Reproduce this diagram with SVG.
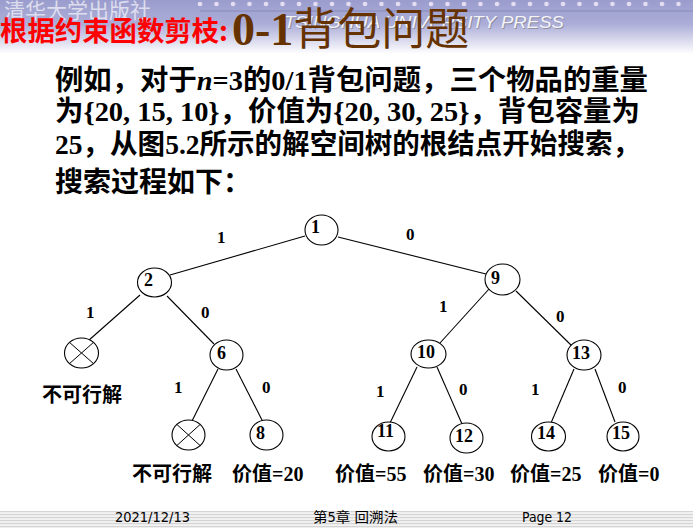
<svg xmlns="http://www.w3.org/2000/svg" width="693" height="528" viewBox="0 0 693 528">
<defs>
<linearGradient id="hdr" x1="0" y1="0" x2="0" y2="1">
<stop offset="0" stop-color="#9a9ccd"/>
<stop offset="0.45" stop-color="#acaed8"/>
<stop offset="1" stop-color="#ffffff"/>
</linearGradient>
<pattern id="dots" x="196" y="0" width="16.5" height="8" patternUnits="userSpaceOnUse">
<circle cx="4" cy="4" r="2.3" fill="#e6def2"/>
</pattern>
<pattern id="stripes" x="0" y="511" width="10" height="3" patternUnits="userSpaceOnUse">
<rect width="10" height="1.5" fill="#d4d4d4"/>
<rect y="1.5" width="10" height="1.5" fill="#f2f2f2"/>
</pattern>
</defs>
<style>
.cjk{font-family:"Noto Sans CJK SC","Liberation Sans",sans-serif;font-weight:bold}
.ser{font-family:"Liberation Serif","Noto Sans CJK SC",serif;font-weight:bold}
.node ellipse{fill:#fff;stroke:#000;stroke-width:1.1}
.node line{stroke:#000;stroke-width:1}
.nl{font-family:"Liberation Serif",serif;font-weight:bold;font-size:18px;fill:#000}
.el{font-family:"Liberation Serif",serif;font-weight:bold;font-size:17px;fill:#000}
#edges line{stroke:#000;stroke-width:1.1}
.leaf{font-size:20px;fill:#000}
.foot{font-family:"DejaVu Sans Condensed","DejaVu Sans","Noto Sans CJK SC",sans-serif;font-size:14px;fill:#000}
.press{font-family:"Liberation Sans",sans-serif;font-style:italic;font-size:17px}
</style>
<rect width="693" height="528" fill="#fff"/>
<!-- header -->
<rect x="0" y="0" width="693" height="54" fill="url(#hdr)"/>
<rect x="190" y="0" width="503" height="8" fill="url(#dots)"/>
<line x1="200" y1="11" x2="693" y2="11" stroke="#8a8cc0" stroke-width="1.5" opacity="0.7"/>
<text x="4" y="18" font-family="Noto Sans CJK SC,sans-serif" font-size="21" fill="#e8e8f4" opacity="0.85">清华大学出版社</text>
<text x="285" y="29" class="press" fill="#777" opacity="0.6" textLength="280" lengthAdjust="spacingAndGlyphs">TSINGHUA UNIVERSITY PRESS</text>
<text x="284" y="28" class="press" fill="#f4f4fa" textLength="280" lengthAdjust="spacingAndGlyphs">TSINGHUA UNIVERSITY PRESS</text>
<text x="0" y="41" class="cjk" font-size="27" fill="#ff0000" textLength="228" lengthAdjust="spacingAndGlyphs">根据约束函数剪枝:</text>
<text x="232" y="45" font-size="44" fill="#663300"><tspan class="ser" font-size="46">0-1</tspan><tspan font-family="Noto Sans CJK SC,sans-serif" font-weight="normal">背包问题</tspan></text>
<!-- body -->
<text x="55" y="90" class="cjk" font-size="28" fill="#000" textLength="593" lengthAdjust="spacingAndGlyphs">例如，对于<tspan class="ser" font-style="italic">n</tspan><tspan class="ser">=3</tspan>的<tspan class="ser">0/1</tspan>背包问题，三个物品的重量</text>
<text x="55" y="121" class="cjk" font-size="28" fill="#000" textLength="585" lengthAdjust="spacingAndGlyphs">为<tspan class="ser">{20, 15, 10}</tspan>，价值为<tspan class="ser">{20, 30, 25}</tspan>，背包容量为</text>
<text x="55" y="154" class="cjk" font-size="28" fill="#000" textLength="585" lengthAdjust="spacingAndGlyphs"><tspan class="ser">25</tspan>，从图<tspan class="ser">5.2</tspan>所示的解空间树的根结点开始搜索，</text>
<text x="55" y="192" class="cjk" font-size="28" fill="#000">搜索过程如下：</text>
<!-- connectors -->
<g id="edges">
<line x1="305" y1="236" x2="170" y2="275"/>
<line x1="338" y1="237" x2="490" y2="275"/>
<line x1="140" y1="295" x2="88" y2="341"/>
<line x1="167" y1="296" x2="214" y2="344"/>
<line x1="218" y1="369" x2="192" y2="421"/>
<line x1="236" y1="369" x2="263" y2="422"/>
<line x1="489" y1="289" x2="440" y2="343"/>
<line x1="516" y1="291" x2="573" y2="347"/>
<line x1="417" y1="367" x2="390" y2="423"/>
<line x1="437" y1="367" x2="462" y2="424"/>
<line x1="574" y1="369" x2="551" y2="423"/>
<line x1="595" y1="369" x2="615" y2="422"/>
<text class="el" x="217" y="243">1</text>
<text class="el" x="406" y="240">0</text>
<text class="el" x="86" y="318">1</text>
<text class="el" x="201" y="318">0</text>
<text class="el" x="174" y="393">1</text>
<text class="el" x="262" y="393">0</text>
<text class="el" x="439" y="312">1</text>
<text class="el" x="556" y="322">0</text>
<text class="el" x="376" y="397">1</text>
<text class="el" x="459" y="395">0</text>
<text class="el" x="531" y="395">1</text>
<text class="el" x="618" y="393">0</text>
</g>
<!-- nodes -->
<g id="n1" class="node"><ellipse cx="321.5" cy="230" rx="16.5" ry="15"/><text class="nl" x="311" y="233">1</text></g>
<g id="n2" class="node"><ellipse cx="154.5" cy="282.5" rx="17" ry="14.5"/><text class="nl" x="144" y="286">2</text></g>
<g id="nx1" class="node"><ellipse cx="81.5" cy="353" rx="17" ry="15"/><line x1="69.5" y1="342.4" x2="93.5" y2="363.6"/><line x1="93.5" y1="342.4" x2="69.5" y2="363.6"/></g>
<g id="n6" class="node"><ellipse cx="226.5" cy="355" rx="16.5" ry="15"/><text class="nl" x="217" y="359">6</text></g>
<g id="nx2" class="node"><ellipse cx="188.5" cy="435" rx="16.5" ry="15"/><line x1="176.8" y1="424.4" x2="200.2" y2="445.6"/><line x1="200.2" y1="424.4" x2="176.8" y2="445.6"/></g>
<g id="n8" class="node"><ellipse cx="266.5" cy="435" rx="16.5" ry="15"/><text class="nl" x="256" y="439">8</text></g>
<g id="n9" class="node"><ellipse cx="502.5" cy="279.5" rx="17.5" ry="15.5"/><text class="nl" x="491" y="284">9</text></g>
<g id="n10" class="node"><ellipse cx="428.5" cy="354" rx="17.5" ry="14"/><text class="nl" x="417" y="358">10</text></g>
<g id="n13" class="node"><ellipse cx="584" cy="355" rx="17" ry="15"/><text class="nl" x="572" y="359">13</text></g>
<g id="n11" class="node"><ellipse cx="388.5" cy="436.5" rx="16.5" ry="14.5"/><text class="nl" x="377" y="437">11</text></g>
<g id="n12" class="node"><ellipse cx="466.5" cy="438" rx="16.5" ry="15"/><text class="nl" x="455" y="442">12</text></g>
<g id="n14" class="node"><ellipse cx="548.5" cy="436.5" rx="17" ry="14.5"/><text class="nl" x="537" y="439">14</text></g>
<g id="n15" class="node"><ellipse cx="623" cy="436.5" rx="16" ry="14.5"/><text class="nl" x="612" y="439">15</text></g>
<!-- leaf captions -->
<text class="cjk leaf" x="42" y="402">不可行解</text>
<text class="cjk leaf" x="132" y="481">不可行解</text>
<text class="cjk leaf" x="232" y="481">价值<tspan class="ser">=20</tspan></text>
<text class="cjk leaf" x="335" y="481">价值<tspan class="ser">=55</tspan></text>
<text class="cjk leaf" x="423" y="481">价值<tspan class="ser">=30</tspan></text>
<text class="cjk leaf" x="510" y="481">价值<tspan class="ser">=25</tspan></text>
<text class="cjk leaf" x="598" y="481">价值<tspan class="ser">=0</tspan></text>
<!-- footer -->
<rect x="0" y="511" width="693" height="17" fill="url(#stripes)"/>
<text class="foot" x="115" y="522" textLength="75" lengthAdjust="spacingAndGlyphs">2021/12/13</text>
<text class="foot" x="313" y="522" textLength="85" lengthAdjust="spacingAndGlyphs">第5章 回溯法</text>
<text class="foot" x="522" y="522" textLength="50" lengthAdjust="spacingAndGlyphs">Page 12</text>
</svg>
